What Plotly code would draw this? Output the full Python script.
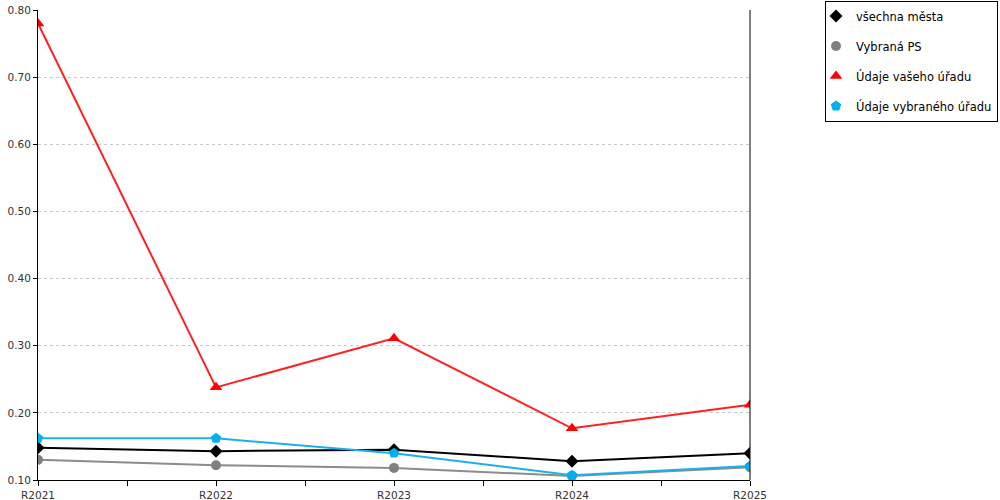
import plotly.graph_objects as go

categories = ["R2021", "R2022", "R2023", "R2024", "R2025"]
vsechna_mesta = [0.148, 0.143, 0.145, 0.128, 0.140]
vybrana_ps = [0.130, 0.122, 0.118, 0.106, 0.119]
vas_urad = [0.780, 0.238, 0.311, 0.177, 0.212]
vybrany_urad = [0.162, 0.162, 0.140, 0.107, 0.121]
y_ticks = [0.1, 0.2, 0.3, 0.4, 0.5, 0.6, 0.7, 0.8]

xs = list(range(len(categories)))

series = [
    ("všechna města", vsechna_mesta, "#000000", "#000000", "diamond", 10),
    ("Vybraná PS", vybrana_ps, "#8c8c8c", "#808080", "circle", 10),
    ("Údaje vašeho úřadu", vas_urad, "#ff2020", "#ff0000", "triangle-up", 11),
    ("Údaje vybraného úřadu", vybrany_urad, "#1ab0ec", "#00b0f0", "pentagon", 11),
]

fig = go.Figure()
for i, (name, vals, lc, mc, sym, sz) in enumerate(series):
    fig.add_trace(go.Scatter(
        x=xs, y=vals, name=name, mode="lines+markers",
        line=dict(color=lc, width=2),
        marker=dict(color=mc, symbol=sym, size=sz),
        showlegend=False,
    ))
for i, (name, vals, lc, mc, sym, sz) in enumerate(series):
    fig.add_trace(go.Scatter(
        x=[None], y=[None], name=name, mode="markers",
        marker=dict(color=mc, symbol=sym, size=sz),
        legendgroup=f"g{i}", showlegend=True,
    ))

fig.add_shape(type="line", xref="paper", yref="paper", x0=1, x1=1, y0=0, y1=1,
              line=dict(color="#000000", width=1))

fig.update_layout(
    width=1000, height=500,
    margin=dict(l=38, r=250, t=10, b=20),
    plot_bgcolor="white", paper_bgcolor="white",
    font=dict(family="DejaVu Sans", size=12, color="#000000"),
    showlegend=True,
    legend=dict(
        xref="container", yref="container",
        x=0.825, y=0.999, xanchor="left", yanchor="top",
        bordercolor="#000000", borderwidth=1, bgcolor="white",
        traceorder="grouped", tracegroupgap=11, itemwidth=30, indentation=-10,
        font=dict(family="DejaVu Sans", size=11.5, color="#000000"),
    ),
    xaxis=dict(
        range=[0, 4], tickvals=xs, ticktext=categories,
        showline=True, linecolor="#000000", linewidth=1,
        ticks="outside", ticklen=5, tickcolor="#000000",
        showgrid=False, zeroline=False, automargin=False,
        minor=dict(tickvals=[0.5, 1.5, 2.5, 3.5], ticks="outside", ticklen=5, tickcolor="#000000"),
        tickfont=dict(size=10.5, color="#333333"),
    ),
    yaxis=dict(
        range=[0.1, 0.8], tickvals=y_ticks, tickformat=".2f",
        showline=True, linecolor="#000000", linewidth=1,
        ticks="outside", ticklen=4, tickcolor="#000000",
        showgrid=True, gridcolor="#c8c8c8", griddash="dot", gridwidth=1,
        zeroline=False, automargin=False,
        tickfont=dict(size=10.5, color="#333333"),
    ),
)

fig.write_html("out.html", config={"displayModeBar": False},
               post_script="document.body.style.margin='0';document.body.style.overflow='hidden';")
